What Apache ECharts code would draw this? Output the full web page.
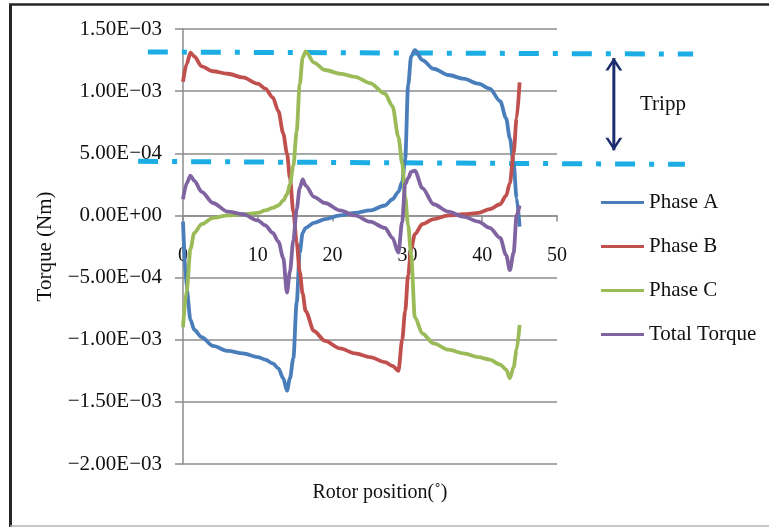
<!DOCTYPE html>
<html>
<head>
<meta charset="utf-8">
<script src="https://cdn.jsdelivr.net/npm/echarts@6/dist/echarts.min.js"></script>
<style>
  html, body { margin: 0; padding: 0; background: #ffffff; }
  #chart { width: 769px; height: 527px; }
</style>
</head>
<body>
<div id="chart"></div>
<script>
// Rotor position (degrees) at which each torque value was taken
const positions = [0, 0.5, 1, 1.5, 2.5, 4, 6, 8, 10, 11, 12, 12.75, 13.4, 13.9, 14.3,
  14.75, 15.2, 15.6, 16, 16.4, 17.5, 19, 21, 23, 25, 27, 28, 28.8, 29.3, 29.7,
  30.1, 30.5, 31, 32, 33.5, 35.5, 37.5, 39.5, 41, 42.4, 43.2, 43.7, 44.2, 44.6, 45];

// Torque per phase and total (Nm)
const phaseA = [-0.00005, -0.00060, -0.00084, -0.00092, -0.00098, -0.00105, -0.00109, -0.00111, -0.00114, -0.00116, -0.00119, -0.00123, -0.00131, -0.00141, -0.00131,
  -0.00115, -0.00070, -0.00030, -0.00014, -0.00010, -0.00006, -0.00003, 0.00000, 0.00002, 0.00004, 0.00008, 0.00013, 0.00019, 0.00027, 0.00045,
  0.00105, 0.00128, 0.00133, 0.00125, 0.00118, 0.00113, 0.00110, 0.00106, 0.00102, 0.00092, 0.00078, 0.00062, 0.00042, 0.00014, -0.00009];

const phaseB = [0.001075, 0.00122, 0.00131, 0.00128, 0.00120, 0.00116, 0.00114, 0.00111, 0.00106, 0.00102, 0.00095, 0.00084, 0.00066, 0.00050, 0.00030,
  0.00003, -0.00022, -0.00045, -0.00063, -0.00077, -0.00093, -0.00101, -0.00107, -0.00111, -0.00114, -0.00118, -0.00121, -0.00125, -0.00100, -0.00077,
  -0.00048, -0.00027, -0.00015, -0.00007, -0.00003, 0.00000, 0.00001, 0.00002, 0.00005, 0.00009, 0.00016, 0.00026, 0.00050, 0.00078, 0.00107];

const phaseC = [-0.00090, -0.00060, -0.00027, -0.00014, -0.00007, -0.00002, 0.00000, 0.00001, 0.00002, 0.00004, 0.00006, 0.00008, 0.00012, 0.00017, 0.00025,
  0.00040, 0.00068, 0.00105, 0.00127, 0.00132, 0.00123, 0.00117, 0.00114, 0.001115, 0.001065, 0.00098, 0.00088, 0.00063, 0.00042, 0.00015,
  -0.00008, -0.00032, -0.00082, -0.00095, -0.00103, -0.00108, -0.00111, -0.00114, -0.00116, -0.00120, -0.00124, -0.00131, -0.00122, -0.00108, -0.00088];

const totalTorque = [0.00013, 0.00026, 0.00032, 0.00028, 0.00019, 0.00010, 0.00003, 0.00001, -0.00004, -0.00008, -0.00014, -0.00021, -0.00034, -0.00062, -0.00045,
  -0.00020, 0.00005, 0.00022, 0.00029, 0.00024, 0.00015, 0.00010, 0.00004, 0.00000, -0.00005, -0.00010, -0.00018, -0.00030, -0.00005, 0.00025,
  0.00030, 0.00035, 0.00036, 0.00022, 0.00009, 0.00003, -0.00001, -0.00005, -0.00010, -0.00018, -0.00032, -0.00044, -0.00030, 0.00000, 0.00008];

const seriesNames = ['Phase A', 'Phase B', 'Phase C', 'Total Torque'];
const seriesColors = ['#4a7ebb', '#c0504d', '#9bbb59', '#8064a2'];

// Axis ranges: [min, max, step]
const xRange = [0, 50, 10];
const yRange = [-0.002, 0.0015, 0.0005];

// Peak-to-peak ripple band (Tripp): guide lines and arrow, in data units
const rippleUpperX = [-4.7, 68.2];
const rippleUpperY = [0.001315, 0.001298];
const rippleLowerX = [-6.0, 67.1];
const rippleLowerY = [0.000435, 0.000411];
const arrowX = [57.6, 57.6];
const arrowY = [0.001266, 0.000524];

const FONT = '"Liberation Serif", "Times New Roman", serif';
const W = 769, H = 527;

// Plot box and a wider overlay box sharing the same scales for the ripple annotations
const plot = { left: 183, right: 212, top: 29, bottom: 63 };
const overlay = { left: 128, right: 69 };
const plotW = W - plot.left - plot.right;
const plotH = H - plot.top - plot.bottom;
const pxPerDeg = plotW / (xRange[1] - xRange[0]);
const overlayX = [
  xRange[0] - (plot.left - overlay.left) / pxPerDeg,
  xRange[1] + (plot.right - overlay.right) / pxPerDeg
];
// Lift the x axis from the bottom edge up to the zero line
const zeroOffset = -plotH * (0 - yRange[0]) / (yRange[1] - yRange[0]);

function sciLabel(v) {
  if (Math.abs(v) < 1e-12) v = 0;
  const [m, e] = Number(v).toExponential(2).split('e');
  const ev = parseInt(e, 10);
  const es = (ev < 0 ? '\u2212' : '+') + String(Math.abs(ev)).padStart(2, '0');
  return m.replace('-', '\u2212') + 'E' + es;
}

const torqueSeries = [phaseA, phaseB, phaseC, totalTorque].map((vals, k) => ({
  name: seriesNames[k],
  type: 'line',
  data: positions.map((x, i) => [x, vals[i]]),
  showSymbol: false,
  smooth: 0.3,
  smoothMonotone: 'x',
  lineStyle: { width: 3.8, color: seriesColors[k] },
  itemStyle: { color: seriesColors[k] },
  emphasis: { disabled: true },
  z: 3
}));

const guideStyle = { color: '#1badE4', width: 5, type: [20, 14, 5, 14], cap: 'butt' };
const guideSeries = [[rippleUpperX, rippleUpperY], [rippleLowerX, rippleLowerY]].map(([xs, ys]) => ({
  type: 'line',
  xAxisIndex: 1,
  yAxisIndex: 1,
  data: xs.map((x, i) => [x, ys[i]]),
  symbol: 'none',
  silent: true,
  lineStyle: guideStyle,
  z: 2
}));

const chevron = 'path://M0,12 L8,0 L16,12 L13.2,12 L8,4.2 L2.8,12 Z';
const arrowSeries = {
  type: 'line',
  xAxisIndex: 1,
  yAxisIndex: 1,
  silent: true,
  symbol: chevron,
  symbolSize: [17, 13],
  showSymbol: true,
  data: arrowX.map((x, i) => ({
    value: [x, arrowY[i]],
    symbolRotate: i === 0 ? 0 : 180,
    symbolOffset: [0, i === 0 ? 6 : -6]
  })),
  lineStyle: { color: '#1c2d6e', width: 3 },
  itemStyle: { color: '#1c2d6e' },
  z: 2
};

const axisGray = '#8c8c8c';

const option = {
  backgroundColor: '#ffffff',
  animation: false,
  grid: [
    { left: plot.left, right: plot.right, top: plot.top, bottom: plot.bottom, outerBoundsMode: 'none', containLabel: false },
    { left: overlay.left, right: overlay.right, top: plot.top, bottom: plot.bottom, outerBoundsMode: 'none', containLabel: false }
  ],
  xAxis: [{
    type: 'value',
    gridIndex: 0,
    min: xRange[0], max: xRange[1], interval: xRange[2],
    offset: zeroOffset,
    axisLine: { show: true, onZero: false, lineStyle: { color: axisGray, width: 1.5 } },
    axisTick: { show: true, length: 6, lineStyle: { color: axisGray, width: 1.5 } },
    splitLine: { show: false },
    axisLabel: { margin: 30, fontFamily: FONT, fontSize: 20, color: '#111' },
    name: 'Rotor position(\u02DA)',
    nameLocation: 'middle',
    nameGap: 267,
    nameTextStyle: { fontFamily: FONT, fontSize: 20, color: '#111', padding: [0, 0, 0, 20] }
  }, {
    type: 'value',
    gridIndex: 1,
    min: overlayX[0], max: overlayX[1],
    show: false
  }],
  yAxis: [{
    type: 'value',
    gridIndex: 0,
    min: yRange[0], max: yRange[1], interval: yRange[2],
    axisLine: { show: true, lineStyle: { color: axisGray, width: 1.5 } },
    axisTick: { show: true, length: 8, lineStyle: { color: axisGray, width: 1.5 } },
    splitLine: { show: true, lineStyle: { color: axisGray, width: 1.5 } },
    axisLabel: { formatter: sciLabel, margin: 21, padding: [6, 0, 0, 0], fontFamily: FONT, fontSize: 21, color: '#111' },
    name: 'Torque (Nm)',
    nameLocation: 'middle',
    nameGap: 127,
    nameTextStyle: { fontFamily: FONT, fontSize: 21, color: '#111' }
  }, {
    type: 'value',
    gridIndex: 1,
    min: yRange[0], max: yRange[1],
    show: false
  }],
  legend: {
    data: seriesNames,
    orient: 'vertical',
    left: 596,
    top: 187,
    icon: 'rect',
    itemWidth: 43,
    itemHeight: 3,
    itemGap: 23,
    textStyle: { fontFamily: FONT, fontSize: 21, color: '#111', lineHeight: 21 }
  },
  graphic: [
    { type: 'line', shape: { x1: 10.5, y1: 4, x2: 10.5, y2: 527 }, style: { stroke: '#262626', lineWidth: 3 }, silent: true },
    { type: 'line', shape: { x1: 9, y1: 4.5, x2: 769, y2: 4.5 }, style: { stroke: '#262626', lineWidth: 2.5 }, silent: true },
    { type: 'line', shape: { x1: 10, y1: 526, x2: 769, y2: 526 }, style: { stroke: '#b5b5b5', lineWidth: 1.5 }, silent: true },
    { type: 'text', left: 640, top: 94, style: { text: 'Tripp', font: '21px ' + FONT, fill: '#111' }, silent: true }
  ],
  series: [...guideSeries, arrowSeries, ...torqueSeries]
};

const chart = echarts.init(document.getElementById('chart'), null, { renderer: 'canvas' });
chart.setOption(option);
</script>
</body>
</html>
